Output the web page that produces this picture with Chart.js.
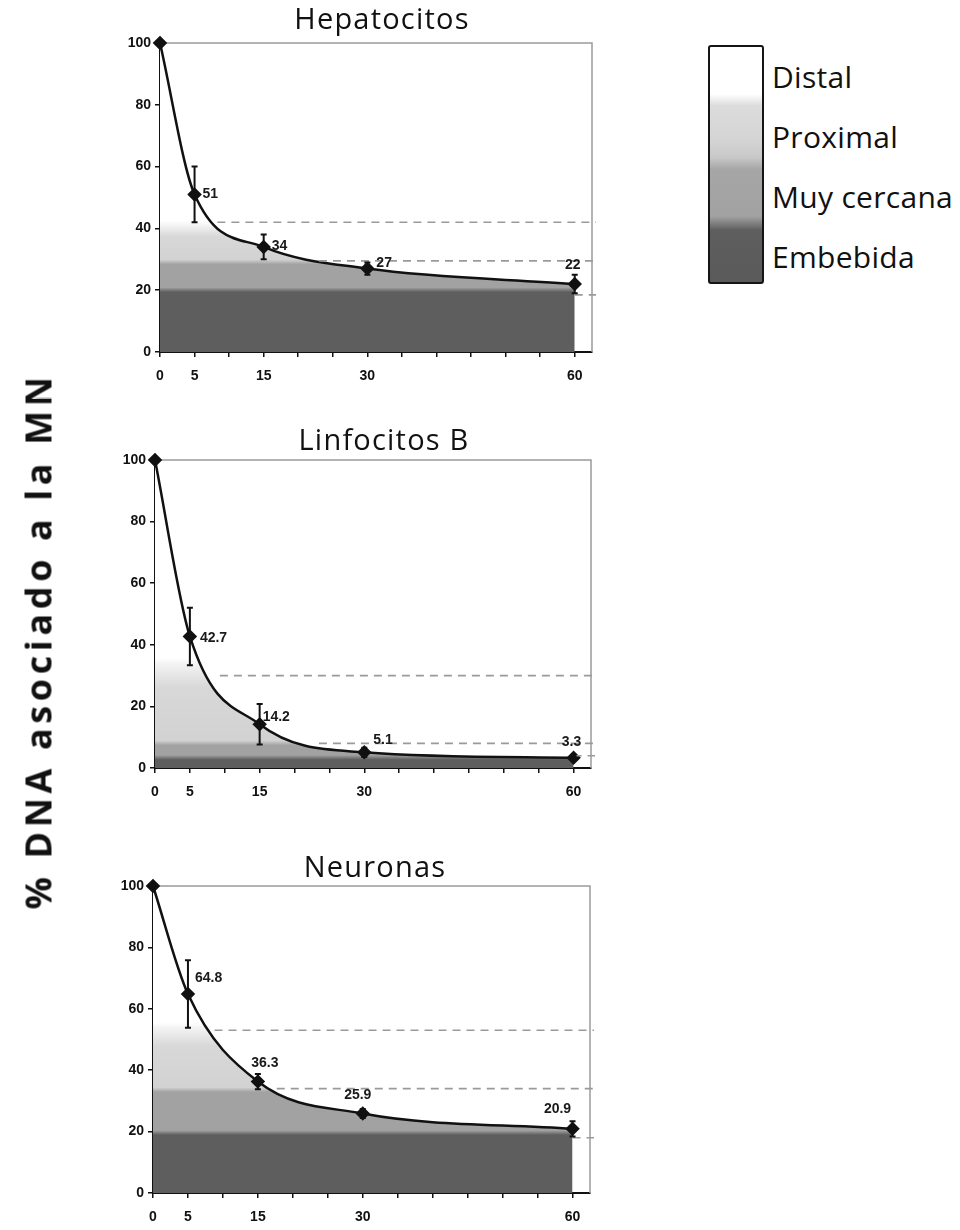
<!DOCTYPE html>
<html>
<head>
<meta charset="utf-8">
<script src="https://cdn.jsdelivr.net/npm/chart.js@4/dist/chart.umd.min.js"></script>
<style>
  html, body { margin: 0; padding: 0; background: #fff; }
  body { width: 960px; height: 1230px; position: relative; overflow: hidden; }
  canvas.panel { position: absolute; left: 0; }
  #ytitle {
    position: absolute; left: 38px; top: 641px;
    transform: translate(-50%, -50%) rotate(-90deg);
    font-family: "Open Sans", sans-serif; font-weight: 700; font-size: 36px;
    letter-spacing: 4.6px;
    white-space: nowrap; color: #111;
  }
  #legendBox {
    position: absolute; left: 708px; top: 45px; width: 52px; height: 235px;
    border: 2px solid #151515; border-radius: 3px;
  }
  .legLabel {
    position: absolute; left: 772px; font-family: "Open Sans", sans-serif;
    font-size: 30px; letter-spacing: 0.3px; color: #111; white-space: nowrap; line-height: 1;
    transform: translateY(-50%);
  }
</style>
</head>
<body>
<canvas class="panel" id="c1"></canvas>
<canvas class="panel" id="c2"></canvas>
<canvas class="panel" id="c3"></canvas>
<div id="ytitle"></div>
<div id="legendBox"></div>
<div id="legendLabels"></div>
<script>
// ---------- DATA ----------
const times = [0, 5, 15, 30, 60];
const xTickMarks = [0, 5, 10, 15, 20, 25, 30, 35, 40, 45, 50, 55, 60];
const xTickLabels = [0, 5, 15, 30, 60];
const yTicks = [0, 20, 40, 60, 80, 100];
const chartTitles = ['Hepatocitos', 'Linfocitos B', 'Neuronas'];
const yAxisTitle = '% DNA asociado a la MN';
const legendLabels = ['Distal', 'Proximal', 'Muy cercana', 'Embebida'];

const hepValues = [100, 51, 34, 27, 22];
const hepErrors = [0, 9, 4, 2, 3];
const hepLabels = ['', '51', '34', '27', '22'];
const hepBands = [20, 29, 41];          // tops of Embebida, Muy cercana, Proximal
const hepLevels = [42, 29.5, 18.5];     // dashed reference levels
const hepLevelStarts = [8.3, 23, 60];

const linValues = [100, 42.7, 14.2, 5.1, 3.3];
const linErrors = [0, 9.3, 6.6, 1.5, 0.6];
const linLabels = ['', '42.7', '14.2', '5.1', '3.3'];
const linBands = [3.3, 8, 34];
const linLevels = [30, 8, 4];
const linLevelStarts = [9.3, 23.5, 60];

const neuValues = [100, 64.8, 36.3, 25.9, 20.9];
const neuErrors = [0, 11, 2.5, 1.5, 2.5];
const neuLabels = ['', '64.8', '36.3', '25.9', '20.9'];
const neuBands = [19.5, 33.5, 54];
const neuLevels = [53, 34, 18];
const neuLevelStarts = [8.8, 17.7, 60];

// ---------- LAYOUT / STYLE ----------
const X_MAX = 62.5;
const COLORS = { dark: '#5e5e5e', mid: '#a2a2a2', light: '#d2d2d2', white: '#ffffff' };
const panels = [
  { id: 'c1', area: { l: 160, r: 592, t: 43, b: 352 }, titleX: 382, titleBase: 29,
    values: hepValues, errors: hepErrors, labels: hepLabels, bands: hepBands, levels: hepLevels, levelStarts: hepLevelStarts,
    labelOffsets: [null, [8, 0, 'left'], [8, -1, 'left'], [9, -5, 'left'], [-2, -19, 'center']] },
  { id: 'c2', area: { l: 155, r: 591, t: 460, b: 768 }, titleX: 384, titleBase: 450,
    values: linValues, errors: linErrors, labels: linLabels, bands: linBands, levels: linLevels, levelStarts: linLevelStarts,
    labelOffsets: [null, [10, 2, 'left'], [3, -7, 'left'], [9, -12, 'left'], [-2, -16, 'center']] },
  { id: 'c3', area: { l: 153, r: 590, t: 886, b: 1193 }, titleX: 375, titleBase: 877,
    values: neuValues, errors: neuErrors, labels: neuLabels, bands: neuBands, levels: neuLevels, levelStarts: neuLevelStarts,
    labelOffsets: [null, [7, -16, 'left'], [7, -18, 'center'], [-5, -18, 'center'], [-15, -20, 'center']] }
];
const Y_AXIS_W = 45, X_AXIS_H = 34;

document.getElementById('ytitle').textContent = yAxisTitle;
(function buildLegend() {
  const box = document.getElementById('legendBox');
  box.style.background = 'linear-gradient(to bottom, ' +
    '#ffffff 0%, #ffffff 20%, #dcdcdc 25%, #d4d4d4 40%, #c8c8c8 47%, #a6a6a6 52%, #a2a2a2 72%, #5e5e5e 78%, #5a5a5a 100%)';
  const ys = [77, 137, 197, 257];
  const holder = document.getElementById('legendLabels');
  legendLabels.forEach((t, i) => {
    const d = document.createElement('div');
    d.className = 'legLabel';
    d.style.top = ys[i] + 'px';
    d.textContent = t;
    holder.appendChild(d);
  });
})();

function bandGradient(chart, bands) {
  const { ctx, chartArea, scales } = chart;
  if (!chartArea) return COLORS.mid;
  const y = scales.y;
  const y0 = y.getPixelForValue(0), y1 = y.getPixelForValue(100);
  const g = ctx.createLinearGradient(0, y0, 0, y1);
  const s = v => Math.min(1, Math.max(0, v / 100));
  const [b0, b1, b2] = bands;
  g.addColorStop(0, COLORS.dark);
  g.addColorStop(s(b0 - 0.6), COLORS.dark);
  g.addColorStop(s(b0 + 0.9), COLORS.mid);
  g.addColorStop(s(b1 - 0.6), COLORS.mid);
  g.addColorStop(s(b1 + 0.9), COLORS.light);
  g.addColorStop(s(b2 - (b2 - b1) * 0.3), '#d8d8d8');
  g.addColorStop(s(b2), '#f4f4f4');
  g.addColorStop(s(b2 + 1.5), COLORS.white);
  g.addColorStop(1, COLORS.white);
  return g;
}

const decorPlugin = {
  id: 'decor',
  beforeDatasetsDraw(chart) {
    const { ctx, chartArea: a } = chart;
    ctx.save();
    ctx.strokeStyle = '#9a9a9a';
    ctx.lineWidth = 1.5;
    ctx.beginPath();
    ctx.moveTo(a.left, a.top); ctx.lineTo(a.right, a.top); ctx.lineTo(a.right, a.bottom);
    ctx.stroke();
    ctx.restore();
  },
  afterDatasetsDraw(chart) {
    const p = chart.options.plugins.decor;
    const { ctx, chartArea: a, scales: { x, y } } = chart;
    ctx.save();
    // dashed levels
    ctx.strokeStyle = '#9a9a9a';
    ctx.lineWidth = 1.6;
    ctx.setLineDash([8, 6]);
    p.levels.forEach((lv, i) => {
      const py = y.getPixelForValue(lv);
      ctx.beginPath();
      ctx.moveTo(x.getPixelForValue(p.levelStarts[i]), py);
      ctx.lineTo(a.right + 4, py);
      ctx.stroke();
    });
    ctx.setLineDash([]);
    // error bars
    ctx.strokeStyle = '#111';
    ctx.lineWidth = 2;
    p.values.forEach((v, i) => {
      const e = p.errors[i];
      if (!e) return;
      const px = x.getPixelForValue(times[i]);
      const yt = y.getPixelForValue(v + e), yb = y.getPixelForValue(v - e);
      ctx.beginPath();
      ctx.moveTo(px, yt); ctx.lineTo(px, yb);
      ctx.moveTo(px - 3, yt); ctx.lineTo(px + 3, yt);
      ctx.moveTo(px - 3, yb); ctx.lineTo(px + 3, yb);
      ctx.stroke();
    });
    // value labels
    ctx.fillStyle = '#1a1a1a';
    ctx.font = 'bold 14px "Liberation Sans", Arial, sans-serif';
    ctx.textBaseline = 'middle';
    p.labels.forEach((t, i) => {
      if (!t) return;
      const off = p.labelOffsets[i];
      ctx.textAlign = off[2];
      ctx.fillText(t, x.getPixelForValue(times[i]) + off[0], y.getPixelForValue(p.values[i]) + off[1]);
    });
    // panel title
    ctx.font = '29px "Open Sans", sans-serif';
    if ('letterSpacing' in ctx) ctx.letterSpacing = '1.2px';
    ctx.fillStyle = '#111';
    ctx.textAlign = 'center';
    ctx.textBaseline = 'alphabetic';
    ctx.fillText(p.title, p.titleX, p.titleBase - p.top);
    ctx.restore();
  }
};

panels.forEach((pn, k) => {
  const W = 640, T = Math.max(0, pn.area.t - 60), H = pn.area.b - T + X_AXIS_H + 6;
  const cv = document.getElementById(pn.id);
  cv.width = W; cv.height = H;
  cv.style.width = W + 'px'; cv.style.height = H + 'px';
  cv.style.top = T + 'px';
  const pts = times.map((t, i) => ({ x: t, y: pn.values[i] }));
  new Chart(cv, {
    type: 'line',
    data: {
      datasets: [{
        data: pts,
        borderColor: '#111',
        borderWidth: 2.5,
        cubicInterpolationMode: 'monotone',
        fill: 'origin',
        backgroundColor: (c) => bandGradient(c.chart, pn.bands),
        pointStyle: 'rectRot',
        pointRadius: 5.5,
        pointBackgroundColor: '#111',
        pointBorderColor: '#111',
        clip: false
      }]
    },
    options: {
      responsive: false,
      maintainAspectRatio: false,
      animation: false,
      devicePixelRatio: 1,
      layout: {
        padding: {
          left: pn.area.l - Y_AXIS_W,
          right: W - pn.area.r,
          top: pn.area.t - T,
          bottom: H - (pn.area.b - T) - X_AXIS_H
        }
      },
      plugins: {
        legend: { display: false },
        tooltip: { enabled: false },
        title: { display: false },
        decor: {
          values: pn.values, errors: pn.errors, labels: pn.labels,
          levels: pn.levels, levelStarts: pn.levelStarts, labelOffsets: pn.labelOffsets,
          title: chartTitles[k], titleX: pn.titleX, titleBase: pn.titleBase, top: T
        }
      },
      scales: {
        x: {
          type: 'linear', min: 0, max: X_MAX,
          afterBuildTicks: (ax) => { ax.ticks = xTickMarks.map(v => ({ value: v })); },
          afterFit: (ax) => { ax.height = X_AXIS_H; },
          grid: { drawOnChartArea: false, drawTicks: true, tickLength: 5, color: '#111', lineWidth: 1.5 },
          border: { display: true, color: '#111', width: 2 },
          ticks: {
            autoSkip: false, maxRotation: 0, padding: 11, color: '#111',
            font: { family: '"Liberation Sans", Arial, sans-serif', weight: 'bold', size: 14 },
            callback: (v) => xTickLabels.includes(v) ? String(v) : ''
          }
        },
        y: {
          type: 'linear', min: 0, max: 100,
          afterBuildTicks: (ax) => { ax.ticks = yTicks.map(v => ({ value: v })); },
          afterFit: (ax) => { ax.width = Y_AXIS_W; },
          grid: { drawOnChartArea: false, drawTicks: true, tickLength: 5, color: '#111', lineWidth: 1.5 },
          border: { display: true, color: '#111', width: 2 },
          ticks: {
            padding: 4, color: '#111',
            font: { family: '"Liberation Sans", Arial, sans-serif', weight: 'bold', size: 14 }
          }
        }
      }
    },
    plugins: [decorPlugin]
  });
});
</script>
</body>
</html>
